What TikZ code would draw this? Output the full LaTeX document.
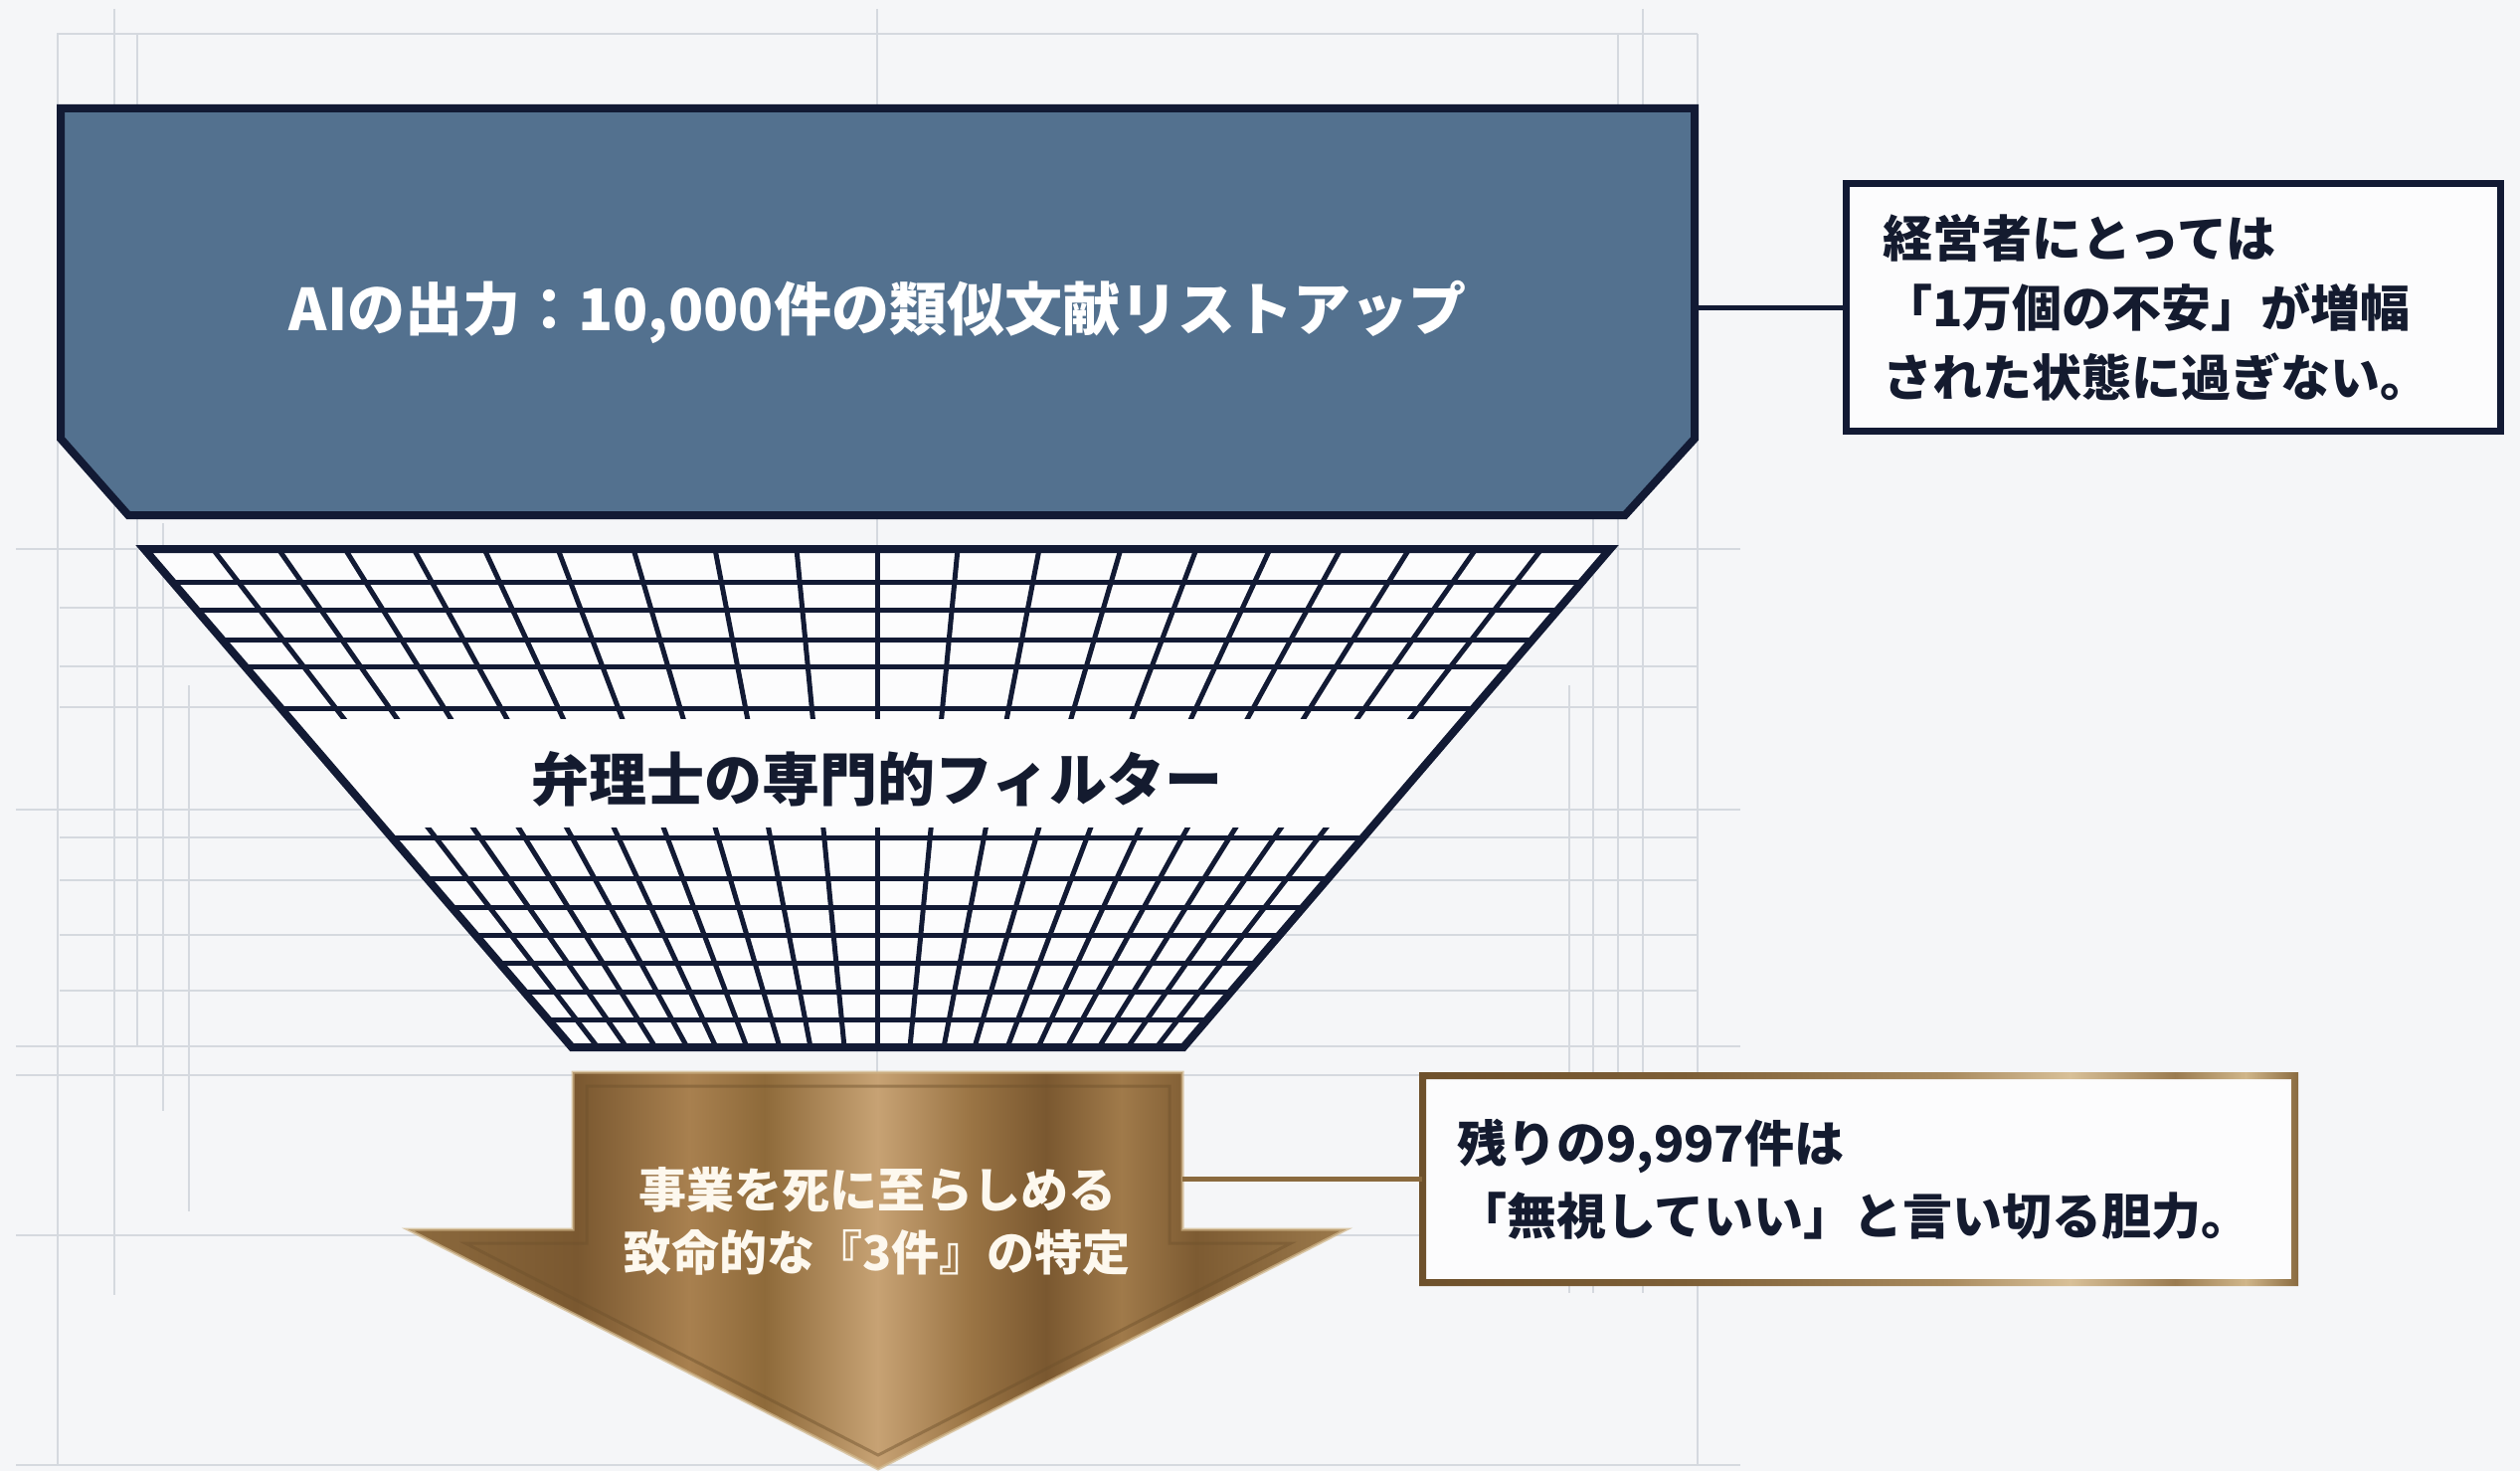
\documentclass[tikz,border=0pt]{standalone}
\usepackage{fontspec}
\setmainfont{Noto Sans CJK JP}
\usetikzlibrary{calc}
\pgfdeclarelayer{guides}
\pgfdeclarelayer{shapes}
\pgfsetlayers{guides,shapes,main}
\definecolor{bgc}{HTML}{F5F6F8}
\definecolor{guidec}{HTML}{D5D9DF}
\definecolor{navy}{HTML}{121A34}
\definecolor{steel}{HTML}{53718F}
\definecolor{ink}{HTML}{141B2F}
\definecolor{paper}{HTML}{FCFCFD}
\definecolor{cream}{HTML}{FDF8EE}
\definecolor{goldline}{HTML}{8A6A3E}
\definecolor{gA1}{HTML}{8C6A3E}
\definecolor{gA2}{HTML}{7A5830}
\definecolor{gA3}{HTML}{A8804F}
\definecolor{gA4}{HTML}{8E6A3A}
\definecolor{gA5}{HTML}{C7A274}
\definecolor{gA6}{HTML}{9A7444}
\definecolor{gA7}{HTML}{7A5830}
\definecolor{gA8}{HTML}{A07A4A}
\definecolor{gA9}{HTML}{7D5B32}
\definecolor{gA10}{HTML}{9C7A4C}
\definecolor{gF1}{HTML}{6E512C}
\definecolor{gF2}{HTML}{7D5F37}
\definecolor{gF3}{HTML}{A88A5E}
\definecolor{gF4}{HTML}{D8C098}
\definecolor{gF5}{HTML}{9A7B50}
\definecolor{gF6}{HTML}{D0B68A}
\definecolor{gF7}{HTML}{8A6B40}
\pgfdeclarehorizontalshading{goldarrow}{100bp}{color(0bp)=(gA1); color(25bp)=(gA1); color(34bp)=(gA2); color(40bp)=(gA3); color(44bp)=(gA4); color(50bp)=(gA5); color(55bp)=(gA6); color(59bp)=(gA7); color(63bp)=(gA8); color(67bp)=(gA9); color(75bp)=(gA10); color(100bp)=(gA10)}
\pgfdeclarehorizontalshading{goldframe}{100bp}{color(0bp)=(gF1); color(25bp)=(gF1); color(40bp)=(gF2); color(55bp)=(gF3); color(62bp)=(gF4); color(68bp)=(gF5); color(72bp)=(gF6); color(75bp)=(gF7); color(100bp)=(gF7)}
\tikzset{
  guide/.style={draw=guidec, line width=2pt},
  gridline/.style={draw=navy, line width=5pt},
  bigtext/.style={font=\fontsize{58pt}{70pt}\selectfont\bfseries, inner sep=0pt},
  boxtext/.style={font=\fontsize{50pt}{70pt}\selectfont\bfseries, text=ink, align=left},
}
\begin{document}
\begin{tikzpicture}[x=1pt,y=-1pt]
\useasboundingbox (0,0) rectangle (2534,1479);
\begin{pgfonlayer}{guides}
\fill[bgc] (0,0) rectangle (2534,1479);
\foreach \x/\ya/\yb in {58/34/1473, 115/9/1302, 138/34/1052, 164/526/1117, 190/689/1218, 882/9/1080, 1578/689/1300, 1602/522/1300, 1627/34/1080, 1652/9/1300, 1707/34/1473}
  \draw[guide] (\x,\ya) -- (\x,\yb);
\foreach \y/\xa/\xb in {34/57/1707, 552/16/1750, 611/60/1706, 670/60/1706, 711/60/1706, 814/16/1750, 842/60/1706, 885/60/1706, 940/60/1706, 996/60/1706, 1052/16/1750, 1081/16/1427, 1242/16/1427, 1473/16/1750}
  \draw[guide] (\xa,\y) -- (\xb,\y);
\end{pgfonlayer}

% nodes (text and named frames)
\node[bigtext, text=white, minimum width=1643pt, minimum height=409pt] (topbox) at (882.5,313.5) {AIの出力：10,000件の類似文献リストアップ};
\node[bigtext, text=ink] (filter) at (882,783) {弁理士の専門的フィルター};
\node[inner sep=0pt, minimum width=613pt, minimum height=158pt] (arrowshaft) at (882.5,1157) {};
\node[font=\fontsize{48pt}{63pt}\selectfont\bfseries, text=cream, align=center, inner sep=0pt] (arrowtext) at (882,1228) {事業を死に至らしめる\\致命的な『3件』の特定};
\node[boxtext, draw=navy, line width=7pt, fill=paper, minimum width=658pt, minimum height=249pt, text width=585pt, inner xsep=36.5pt] (riskbox) at (2185.5,309) {経営者にとっては\\「1万個の不安」が増幅\\された状態に過ぎない。};
\node[boxtext, font=\fontsize{50pt}{73pt}\selectfont\bfseries, minimum width=877pt, minimum height=208pt, text width=808pt, inner xsep=34.5pt] (courage) at (1869,1185.5) {残りの9,997件は\\「無視していい」と言い切る胆力。};

\begin{pgfonlayer}{shapes}
% top box
\filldraw[fill=steel, draw=navy, line width=8pt] (61,109) -- (1704,109) -- (1704,441) -- (1634,518) -- (129,518) -- (61,441) -- cycle;
% funnel
\fill[paper] (145,552) -- (1619,552) -- (1190,1053) -- (575,1053) -- cycle;
\begin{scope}
  \clip (145,552) -- (1619,552) -- (1190,1053) -- (575,1053) -- cycle;
  \begin{scope}
    \clip (0,552) rectangle (2534,722);
    \foreach \t/\b in {214/601,280/630,347/659,416/691,487/720,561/751,637/784,719/815,801/849,882/882,963/915,1045/949,1127/980,1203/1013,1277/1044,1348/1073,1417/1105,1484/1134,1550/1163}
      \draw[gridline] (\t,552) -- (\b,1053);
  \end{scope}
  \begin{scope}
    \clip (0,832) rectangle (2534,1053);
    \foreach \t/\b in {214/601,280/630,347/659,416/691,487/720,561/751,637/784,719/815,801/849,882/882,963/915,1045/949,1127/980,1203/1013,1277/1044,1348/1073,1417/1105,1484/1134,1550/1163}
      \draw[gridline] (\t,552) -- (\b,1053);
  \end{scope}
  \foreach \y in {585,613,643,670,712,842,883,912,940,968,997,1025}
    \draw[gridline] (0,\y) -- (2534,\y);
\end{scope}
\draw[navy, line width=8pt] (145,552) -- (1619,552) -- (1190,1053) -- (575,1053) -- cycle;
% gold arrow
\shade[shading=goldarrow] (576,1078) -- (1189,1078) -- (1189,1236) -- (1354,1236) -- (883,1477) -- (410,1236) -- (576,1236) -- cycle;
\draw[draw=gF6, line width=3pt, opacity=0.7] (576,1078) -- (1189,1078) -- (1189,1236) -- (1354,1236) -- (883,1477) -- (410,1236) -- (576,1236) -- cycle;
\draw[draw=gF1, line width=3pt, opacity=0.45] (590,1092) -- (1176,1092) -- (1176,1250) -- (1298,1250) -- (883,1463) -- (468,1250) -- (590,1250) -- cycle;
% courage box
\fill[paper] (1427,1078) rectangle (2311,1293);
\shade[shading=goldframe, even odd rule] (1427,1078) rectangle (2311,1293) (1434,1085) rectangle (2304,1286);
\end{pgfonlayer}

% connectors
\draw[navy, line width=5pt] (riskbox.west) -- (riskbox.west -| topbox.east);
\draw[goldline, line width=5pt] (courage.west) -- (courage.west -| arrowshaft.east);
\end{tikzpicture}
\end{document}
